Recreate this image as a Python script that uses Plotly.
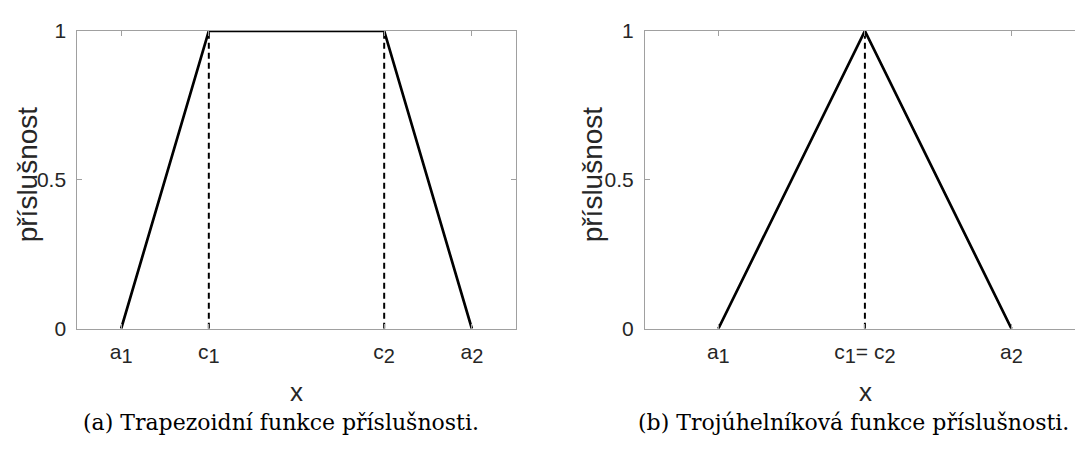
import plotly.graph_objects as go

# Data
trap_x = [1, 3, 7, 9]
trap_y = [0, 1, 1, 0]
trap_dash_x = [3, 7]
tri_x = [1, 3, 5]
tri_y = [0, 1, 0]
tri_dash_x = [3]
left_tickvals = [1, 3, 7, 9]
left_ticktext = ["a|1", "c|1", "c|2", "a|2"]
right_tickvals = [1, 3, 5]
right_ticktext = ["a|1", "c|1= c|2", "a|2"]
y_tickvals = [0, 0.5, 1]
y_ticktext = ["0", "0.5", "1"]
ylabel = "příslušnost"
xlabel = "x"
caption_a = "(a) Trapezoidní funkce příslušnosti."
caption_b = "(b) Trojúhelníková funkce příslušnosti."

W, H = 1075, 452
axcol = "#a0a0a0"
TICK = 21
tickfont = dict(family="Liberation Sans", size=TICK, color="#262626")


def subfmt(s):
    parts = s.split("|")
    out = parts[0]
    for p in parts[1:]:
        digit, rest = p[0], p[1:]
        out += "<sub><span style='font-size:%dpx'>%s</span></sub>%s" % (TICK - 1, digit, rest)
    return out


fig = go.Figure()


def dashed(xs, xa, ya):
    for xv in xs:
        fig.add_trace(go.Scatter(x=[xv, xv], y=[0, 1], mode="lines",
                                 line=dict(color="black", width=2, dash="6px,4px"),
                                 xaxis=xa, yaxis=ya, cliponaxis=False, hoverinfo="skip"))


dashed(trap_dash_x, "x", "y")
fig.add_trace(go.Scatter(x=trap_x, y=trap_y, mode="lines",
                         line=dict(color="black", width=2.7),
                         xaxis="x", yaxis="y", cliponaxis=False))
dashed(tri_dash_x, "x2", "y2")
fig.add_trace(go.Scatter(x=tri_x, y=tri_y, mode="lines",
                         line=dict(color="black", width=2.7),
                         xaxis="x2", yaxis="y2", cliponaxis=False))

ydom = [1 - 333.7 / H, 1 - 20 / H]
lx0, lx1 = 77.3 / W, 515.7 / W
rx0 = 645 / W
right_max = (W - 645) / 73.3

common_x = dict(showline=True, linecolor=axcol, linewidth=1, ticks="inside",
                ticklen=5, tickcolor=axcol, tickfont=tickfont, showgrid=False,
                zeroline=False, ticklabelstandoff=4)
common_y = dict(showline=True, linecolor=axcol, linewidth=1, ticks="inside",
                ticklen=5, tickcolor=axcol, tickfont=tickfont, showgrid=False,
                zeroline=False, range=[0, 1], tickvals=y_tickvals, ticktext=y_ticktext,
                ticklabelstandoff=6)

fig.update_layout(
    width=W, height=H, margin=dict(l=0, r=0, t=0, b=0),
    paper_bgcolor="white", plot_bgcolor="white", showlegend=False,
    xaxis=dict(common_x, domain=[lx0, lx1], range=[0, 10], tickvals=left_tickvals,
               ticktext=[subfmt(t) for t in left_ticktext], mirror="allticks", anchor="y"),
    yaxis=dict(common_y, domain=ydom, mirror="allticks", anchor="x"),
    xaxis2=dict(common_x, domain=[rx0, 1], range=[0, right_max], tickvals=right_tickvals,
                ticktext=[subfmt(t) for t in right_ticktext], mirror="allticks", anchor="y2"),
    yaxis2=dict(common_y, domain=ydom, mirror=False, anchor="x2"),
)

ylabfont = dict(family="Liberation Sans", size=28, color="#262626")
labfont = dict(family="Liberation Sans", size=26, color="#262626")
capfont = dict(family="DejaVu Serif", size=22, color="black")
ann = [
    dict(x=27 / W, y=1 - 171 / H, text=ylabel, textangle=-90, font=ylabfont),
    dict(x=592 / W, y=1 - 171 / H, text=ylabel, textangle=-90, font=ylabfont),
    dict(x=296.5 / W, y=1 - 400 / H, text=xlabel, font=labfont),
    dict(x=865 / W, y=1 - 400 / H, text=xlabel, font=labfont),
    dict(x=281 / W, y=1 - 433 / H, text=caption_a, font=capfont),
    dict(x=853 / W, y=1 - 433 / H, text=caption_b, font=capfont),
]
for a in ann:
    a.update(xref="paper", yref="paper", showarrow=False, xanchor="center", yanchor="middle")
fig.update_layout(annotations=ann)

fig.write_html("out.html")
